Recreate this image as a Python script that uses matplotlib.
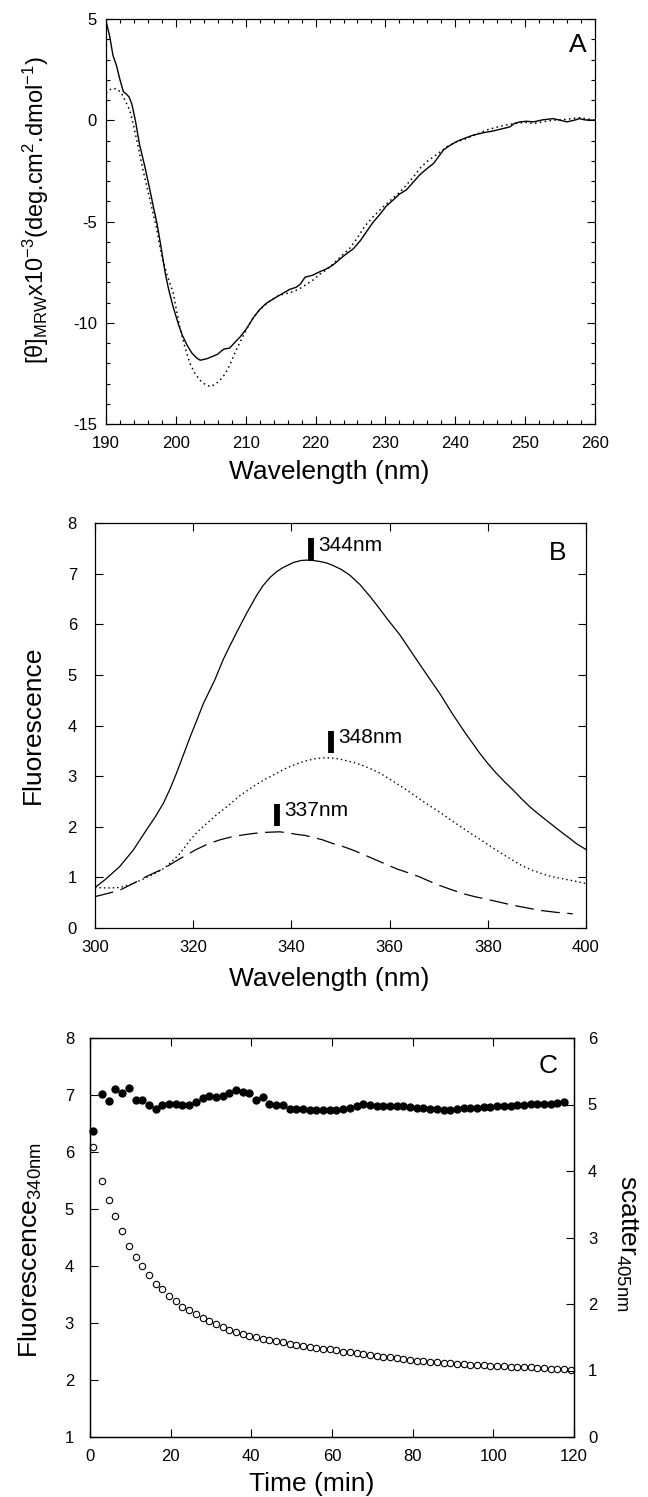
import matplotlib
matplotlib.use("Agg")
import matplotlib.pyplot as plt
from matplotlib.ticker import MultipleLocator

plt.rcParams['font.family'] = ['Liberation Sans', 'DejaVu Sans']
plt.rcParams['mathtext.default'] = 'regular'
plt.rcParams['axes.unicode_minus'] = False

# Panel A - CD spectra
cd_wl_solid = [190.0, 190.5, 191.0, 191.5, 192.0, 192.5, 192.9, 193.3, 193.7, 194.2, 194.8, 195.5,
               196.2, 196.8, 197.3, 197.9, 198.5, 199.0, 199.6, 200.3, 200.9, 201.6, 202.3, 203.0,
               203.5, 204.4, 205.2, 206.0, 206.5, 206.9, 207.7, 208.5, 209.2, 210.1, 211.1, 212.0,
               212.9, 213.6, 214.3, 215.3, 216.3, 217.2, 217.8, 218.5, 219.6, 220.6, 221.5, 222.5,
               223.5, 224.4, 225.4, 226.4, 227.3, 228.2, 229.2, 230.1, 231.1, 232.0, 233.0, 234.0,
               234.9, 235.9, 236.9, 237.6, 238.3, 239.2, 240.2, 241.4, 242.6, 244.0, 245.4, 246.6,
               247.8, 248.5, 249.3, 250.2, 251.2, 252.5, 254.0, 255.0, 256.0, 257.0, 257.8, 258.5, 260.0]
cd_solid = [4.9, 4.2, 3.2, 2.7, 2.0, 1.4, 1.3, 1.15, 0.8, 0.0, -1.2, -2.2,
            -3.3, -4.3, -5.1, -6.3, -7.6, -8.4, -9.2, -10.0, -10.6, -11.1, -11.5, -11.75,
            -11.85, -11.78, -11.67, -11.55, -11.4, -11.3, -11.25, -10.95, -10.7, -10.3, -9.75, -9.35,
            -9.05, -8.9, -8.75, -8.55, -8.35, -8.25, -8.1, -7.75, -7.65, -7.48, -7.35, -7.15,
            -6.85, -6.6, -6.35, -5.95, -5.5, -5.05, -4.65, -4.25, -3.94, -3.65, -3.44, -3.05,
            -2.7, -2.4, -2.13, -1.8, -1.47, -1.25, -1.05, -0.88, -0.73, -0.62, -0.53, -0.43,
            -0.33, -0.15, -0.08, -0.05, -0.08, 0.02, 0.08, 0.0, -0.08, 0.0, 0.08, 0.02, 0.0]

cd_wl_dot = [190.0, 190.5, 191.0, 191.6, 192.2, 192.7, 193.4, 193.9, 194.4, 195.3, 196.3, 197.2,
             197.9, 198.7, 199.6, 200.6, 201.3, 202.0, 202.8, 203.5, 204.2, 204.9, 205.6, 206.3,
             207.0, 207.7, 208.5, 209.2, 210.0, 210.8, 211.6, 212.5, 213.4, 214.3, 215.3, 216.3,
             217.2, 217.8, 218.5, 219.6, 220.6, 221.5, 222.5, 223.7, 224.9, 226.0, 227.0, 228.0,
             229.0, 229.7, 230.9, 232.1, 233.0, 234.0, 235.0, 235.9, 236.9, 237.9, 238.8, 240.2,
             241.6, 243.0, 244.5, 246.4, 248.3, 250.0, 251.2, 252.5, 254.0, 256.0, 257.8, 260.0]
cd_dot = [1.35, 1.5, 1.58, 1.53, 1.35, 1.0, 0.5, -0.2, -0.98, -2.46, -3.94, -5.26,
          -6.6, -7.6, -8.5, -10.3, -11.2, -12.0, -12.55, -12.85, -13.05, -13.15, -13.05, -12.85,
          -12.55, -12.1, -11.45, -10.95, -10.4, -9.9, -9.5, -9.2, -8.95, -8.72, -8.6, -8.52,
          -8.4, -8.3, -8.15, -7.9, -7.6, -7.4, -7.1, -6.7, -6.32, -5.8, -5.25, -4.85,
          -4.5, -4.27, -3.9, -3.54, -3.2, -2.8, -2.35, -2.05, -1.8, -1.55, -1.3, -1.07,
          -0.9, -0.7, -0.48, -0.3, -0.17, -0.1, -0.17, -0.08, 0.0, 0.05, 0.13, 0.0]

# Panel B - fluorescence emission spectra
fl_wl_solid = [300, 302, 305, 307.8, 310.5, 312.3, 313.9, 315.3, 316.6, 318.0, 319.4, 320.8,
               322.1, 323.3, 324.4, 326.1, 327.5, 328.8, 330.9, 332.8, 334.2, 335.6, 337.0, 338.3,
               340.4, 342.0, 343.7, 345.8, 347.2, 348.5, 350.2, 351.9, 354.0, 356.0, 357.7, 359.4,
               362.1, 364.8, 367.6, 370.3, 373.0, 375.5, 378.3, 380.0, 381.7, 383.4, 385.1, 386.8,
               388.5, 390.2, 391.9, 393.6, 395.3, 396.7, 398.0, 400]
fl_solid = [0.80, 0.95, 1.21, 1.54, 1.94, 2.20, 2.46, 2.75, 3.06, 3.42, 3.78, 4.12,
            4.44, 4.68, 4.90, 5.30, 5.58, 5.83, 6.22, 6.55, 6.76, 6.92, 7.04, 7.12,
            7.22, 7.26, 7.27, 7.24, 7.21, 7.16, 7.08, 6.97, 6.78, 6.55, 6.34, 6.12,
            5.79, 5.40, 5.00, 4.62, 4.20, 3.84, 3.46, 3.25, 3.06, 2.89, 2.73, 2.56,
            2.40, 2.26, 2.13, 2.00, 1.87, 1.77, 1.67, 1.55]

fl_wl_dot = [300.0, 302.5, 305.1, 307.2, 309.2, 311.5, 313.9, 315.6, 317.3, 319.4, 321.1, 322.8,
             324.8, 326.9, 329.6, 332.3, 334.7, 337.1, 338.8, 340.5, 342.5, 344.6, 346.3, 348.0,
             349.7, 351.4, 353.1, 354.8, 356.5, 358.2, 360.2, 362.3, 364.3, 366.4, 368.4, 370.5,
             372.5, 374.5, 376.5, 378.6, 380.6, 382.7, 384.7, 386.8, 388.8, 390.8, 392.8, 394.9,
             397.5, 400.0]
fl_dot = [0.80, 0.79, 0.80, 0.86, 0.94, 1.04, 1.17, 1.31, 1.47, 1.74, 1.92, 2.07,
          2.24, 2.40, 2.62, 2.80, 2.94, 3.06, 3.15, 3.22, 3.29, 3.34, 3.36, 3.36,
          3.34, 3.30, 3.26, 3.20, 3.13, 3.05, 2.93, 2.80, 2.67, 2.53, 2.40, 2.27,
          2.13, 2.00, 1.87, 1.74, 1.61, 1.48, 1.36, 1.24, 1.15, 1.08, 1.02, 0.98,
          0.93, 0.88]

fl_wl_dash = [300, 302.5, 305.1, 307.8, 310.5, 313.9, 317.3, 320.6, 323.0, 325.4, 327.8, 330.2,
              332.5, 334.9, 337.6, 339.3, 341.0, 342.7, 344.4, 346.4, 348.4, 350.5, 352.5, 354.5,
              356.6, 359.0, 361.4, 363.8, 366.1, 368.2, 370.2, 372.5, 374.9, 377.3, 379.7, 382.4,
              385.1, 387.8, 390.5, 393.9, 397.3]
fl_dash = [0.62, 0.68, 0.75, 0.88, 1.02, 1.17, 1.37, 1.55, 1.66, 1.74, 1.80, 1.84,
           1.87, 1.89, 1.90, 1.88, 1.85, 1.83, 1.79, 1.74, 1.67, 1.61, 1.54, 1.46,
           1.37, 1.27, 1.17, 1.09, 1.01, 0.92, 0.84, 0.76, 0.68, 0.62, 0.57, 0.51,
           0.45, 0.40, 0.35, 0.31, 0.28]

peak_wl = [344, 348, 337]
peak_lo = [7.24, 3.46, 2.02]
peak_hi = [7.70, 3.90, 2.45]
peak_labels = ["344nm", "348nm", "337nm"]

# Panel C - time course
time_min = [0.8, 3.0, 4.66, 6.32, 7.98, 9.64, 11.3, 12.96, 14.62, 16.28, 17.94, 19.6,
            21.26, 22.92, 24.58, 26.24, 27.9, 29.56, 31.22, 32.88, 34.54, 36.2, 37.86, 39.52,
            41.18, 42.84, 44.5, 46.16, 47.82, 49.48, 51.14, 52.8, 54.46, 56.12, 57.78, 59.44,
            61.1, 62.76, 64.42, 66.08, 67.74, 69.4, 71.06, 72.72, 74.38, 76.04, 77.7, 79.36,
            81.02, 82.68, 84.34, 86.0, 87.66, 89.32, 90.98, 92.64, 94.3, 95.96, 97.62, 99.28,
            100.94, 102.6, 104.26, 105.92, 107.58, 109.24, 110.9, 112.56, 114.22, 115.88, 117.54, 119.2]
open_vals = [6.08, 5.50, 5.16, 4.87, 4.61, 4.35, 4.16, 4.00, 3.85, 3.69, 3.59, 3.47,
             3.38, 3.28, 3.22, 3.15, 3.08, 3.04, 2.98, 2.93, 2.88, 2.84, 2.81, 2.78,
             2.75, 2.72, 2.70, 2.68, 2.66, 2.63, 2.61, 2.60, 2.58, 2.57, 2.55, 2.54,
             2.52, 2.50, 2.49, 2.47, 2.45, 2.43, 2.42, 2.41, 2.40, 2.38, 2.37, 2.35,
             2.34, 2.33, 2.32, 2.31, 2.30, 2.29, 2.28, 2.28, 2.27, 2.26, 2.26, 2.25,
             2.25, 2.24, 2.23, 2.23, 2.22, 2.22, 2.21, 2.21, 2.20, 2.19, 2.19, 2.18]
filled_vals = [6.37, 7.02, 6.90, 7.10, 7.04, 7.13, 6.92, 6.91, 6.82, 6.75, 6.82, 6.84,
               6.85, 6.82, 6.83, 6.88, 6.94, 6.98, 6.96, 6.99, 7.03, 7.09, 7.05, 7.04,
               6.92, 6.96, 6.85, 6.83, 6.82, 6.76, 6.76, 6.75, 6.74, 6.73, 6.73, 6.74,
               6.74, 6.75, 6.77, 6.80, 6.84, 6.82, 6.80, 6.80, 6.80, 6.81, 6.80, 6.79,
               6.78, 6.77, 6.76, 6.75, 6.74, 6.74, 6.76, 6.77, 6.78, 6.78, 6.79, 6.79,
               6.80, 6.80, 6.81, 6.82, 6.83, 6.84, 6.84, 6.84, 6.85, 6.86, 6.88]

W, H = 648, 1497
fig = plt.figure(figsize=(6.48, 14.97), dpi=100)


def box(l, t, r, b):
    return [l / W, 1 - b / H, (r - l) / W, (b - t) / H]


def style(ax, ypad, xpad=8.5):
    ax.tick_params(which='both', direction='in', top=True, right=True, labelsize=12)
    ax.tick_params(which='major', length=6, width=0.8)
    ax.tick_params(which='minor', length=3.2, width=0.8)
    ax.tick_params(axis='y', pad=ypad)
    ax.tick_params(axis='x', pad=xpad)
    for s in ax.spines.values():
        s.set_linewidth(0.9)


label_fs = 19

# ---- A ----
axA = fig.add_axes(box(106, 19, 595, 424))
axA.plot(cd_wl_solid, cd_solid, color='k', lw=1.0)
axA.plot(cd_wl_dot, cd_dot, color='k', lw=1.1, linestyle=(0, (1, 2.2)))
axA.set_xlim(190, 260)
axA.set_ylim(-15, 5)
axA.xaxis.set_major_locator(MultipleLocator(10))
axA.xaxis.set_minor_locator(MultipleLocator(2))
axA.yaxis.set_major_locator(MultipleLocator(5))
axA.yaxis.set_minor_locator(MultipleLocator(1))
style(axA, 6.5)
fig.text(578 / W, 1 - 45 / H, "A", fontsize=19, ha='center', va='center')
fig.text(329 / W, 1 - 472 / H, "Wavelength (nm)", fontsize=label_fs, ha='center', va='center')
fig.text(36 / W, 1 - 210 / H, r'$[\theta]_{MRW}$x10$^{-3}$(deg.cm$^{2}$.dmol$^{-1}$)',
         fontsize=17, ha='center', va='center', rotation=90)

# ---- B ----
axB = fig.add_axes(box(95, 523, 586, 928))
axB.plot(fl_wl_solid, fl_solid, color='k', lw=0.9)
axB.plot(fl_wl_dot, fl_dot, color='k', lw=1.0, linestyle=(0, (1, 2.2)))
axB.plot(fl_wl_dash, fl_dash, color='k', lw=0.9, linestyle=(0, (15, 6)))
for wl, lo, hi, lab in zip(peak_wl, peak_lo, peak_hi, peak_labels):
    axB.plot([wl, wl], [lo, hi], color='k', lw=4.2, solid_capstyle='butt')
    axB.text(wl + 1.5, lo + 0.2, lab, fontsize=15, ha='left', va='baseline')
axB.set_xlim(300, 400)
axB.set_ylim(0, 8)
axB.xaxis.set_major_locator(MultipleLocator(20))
axB.yaxis.set_major_locator(MultipleLocator(1))
style(axB, 13)
fig.text(558 / W, 1 - 553 / H, "B", fontsize=19, ha='center', va='center')
fig.text(329 / W, 1 - 979 / H, "Wavelength (nm)", fontsize=label_fs, ha='center', va='center')
fig.text(33 / W, 1 - 725 / H, "Fluorescence", fontsize=label_fs, ha='center', va='center', rotation=90)

# ---- C ----
axC = fig.add_axes(box(90, 1038, 574, 1437))
axC.plot(time_min, open_vals, 'o', mfc='white', mec='k', ms=4.6, mew=0.8, clip_on=False)
axC.plot(time_min[:len(filled_vals)], filled_vals, 'o', mfc='k', mec='k', ms=5.0, clip_on=False)
axC.set_xlim(0, 120)
axC.set_ylim(1, 8)
axC.xaxis.set_major_locator(MultipleLocator(20))
axC.yaxis.set_major_locator(MultipleLocator(1))
style(axC, 11.5)
axC.tick_params(right=False)
axC2 = axC.twinx()
axC2.set_ylim(0, 6)
axC2.yaxis.set_major_locator(MultipleLocator(1))
axC2.tick_params(direction='in', length=6, width=0.8, labelsize=12, pad=10)
for s in axC2.spines.values():
    s.set_linewidth(0.9)
fig.text(548 / W, 1 - 1066 / H, "C", fontsize=19, ha='center', va='center')
fig.text(312 / W, 1 - 1484 / H, "Time (min)", fontsize=label_fs, ha='center', va='center')
fig.text(30 / W, 1 - 1250 / H, r'Fluorescence$_{340nm}$', fontsize=label_fs,
         ha='center', va='center', rotation=90)
fig.text(627 / W, 1 - 1243 / H, r'scatter$_{405nm}$', fontsize=label_fs,
         ha='center', va='center', rotation=270)

fig.savefig("out.png", dpi=100)
